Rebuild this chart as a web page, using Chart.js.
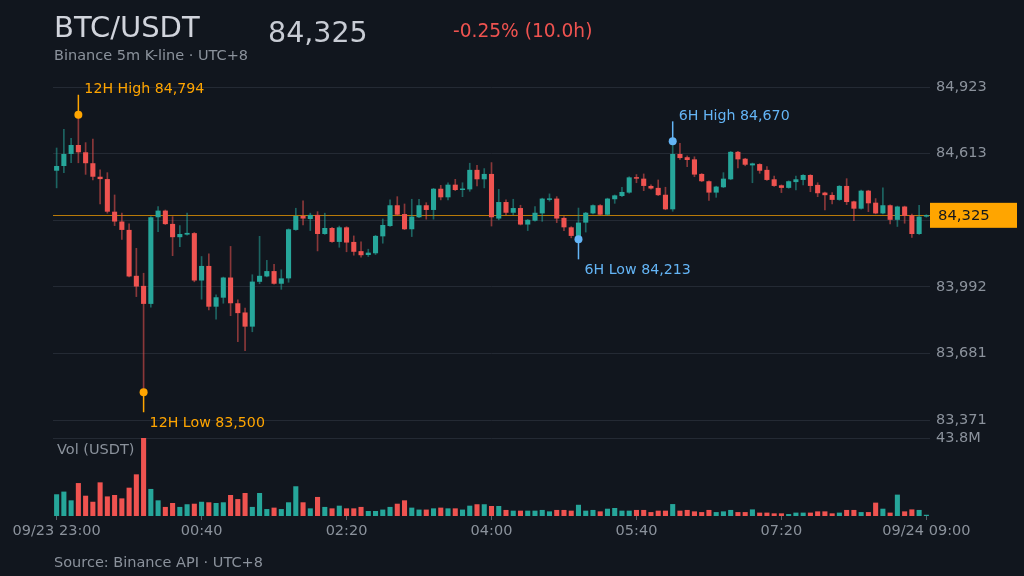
<!DOCTYPE html>
<html><head><meta charset="utf-8">
<script src="https://cdn.jsdelivr.net/npm/chart.js@4.4.1/dist/chart.umd.min.js"></script>
<style>
html,body{margin:0;padding:0;background:#11161e;}
canvas{display:block;}
</style></head>
<body><canvas id="c" width="1024" height="576"></canvas>
<script>
const opens = [84533,84555,84611,84653,84619,84568,84505,84494,84342,84296,84257,84043,83996,83912,84316,84347,84285,84223,84235,84242,
84021,84089,83899,83941,84035,83915,83872,83806,84015,84040,84065,84006,84031,84257,84322,84308,84327,84238,84266,84201,
84269,84201,84158,84140,84148,84227,84275,84372,84331,84260,84316,84372,84350,84449,84409,84468,84443,84446,84537,84493,
84518,84310,84387,84337,84359,84282,84300,84334,84397,84403,84313,84269,84229,84291,84334,84372,84328,84400,84415,84431,
84502,84496,84462,84453,84421,84353,84611,84596,84586,84518,84484,84431,84456,84493,84621,84589,84558,84564,84537,84493,
84465,84453,84480,84490,84513,84467,84431,84420,84397,84462,84390,84356,84440,84384,84334,84372,84304,84366,84325,84238,84319];
const highs = [84639,84726,84684,84794,84664,84681,84537,84524,84420,84335,84285,84171,84055,84319,84366,84350,84319,84277,84335,84245,
84133,84145,83954,84037,84180,83931,83892,84048,84227,84115,84096,84071,84262,84358,84393,84335,84342,84335,84269,84275,
84272,84229,84201,84167,84232,84308,84397,84412,84378,84400,84400,84384,84451,84465,84477,84493,84477,84568,84558,84543,
84571,84446,84397,84400,84372,84306,84366,84405,84425,84412,84319,84272,84359,84339,84374,84375,84405,84420,84456,84505,
84515,84518,84467,84490,84456,84670,84661,84602,84598,84520,84486,84461,84524,84623,84623,84591,84569,84566,84552,84508,
84467,84486,84508,84515,84515,84477,84433,84431,84464,84496,84392,84443,84442,84403,84453,84374,84368,84368,84331,84372,84328];
const lows = [84453,84524,84570,84570,84516,84490,84378,84335,84277,84213,84038,83946,83500,83897,84249,84282,84137,84179,84233,84015,
83934,83884,83841,83915,83857,83736,83694,83782,84006,84038,84004,83980,84013,84255,84280,84254,84159,84236,84199,84176,
84155,84139,84130,84133,84142,84195,84273,84326,84258,84226,84314,84307,84307,84397,84397,84440,84412,84437,84462,84453,
84275,84304,84328,84328,84280,84254,84298,84297,84391,84291,84254,84220,84213,84247,84332,84325,84325,84381,84412,84428,
84477,84440,84447,84417,84351,84344,84586,84552,84505,84482,84394,84409,84454,84491,84546,84556,84477,84521,84488,84460,
84431,84451,84443,84467,84435,84412,84350,84378,84395,84375,84300,84354,84342,84332,84332,84285,84273,84288,84222,84236,84316];
const closes = [84555,84611,84653,84619,84568,84505,84494,84342,84296,84257,84040,83993,83912,84316,84347,84284,84223,84238,84243,84021,
84089,83899,83943,84035,83915,83869,83806,84016,84043,84065,84006,84031,84260,84322,84310,84327,84238,84266,84201,84269,
84198,84155,84139,84151,84229,84280,84372,84328,84260,84319,84372,84350,84449,84409,84468,84443,84449,84537,84493,84518,
84316,84387,84337,84359,84282,84304,84337,84403,84403,84310,84269,84229,84291,84337,84372,84328,84403,84418,84434,84502,
84496,84462,84450,84419,84353,84611,84592,84583,84515,84484,84431,84459,84496,84621,84586,84561,84567,84533,84490,84462,
84453,84484,84493,84513,84462,84428,84419,84397,84462,84387,84356,84440,84381,84334,84372,84304,84366,84322,84238,84319,84325];
const volumesM = [12.2,13.7,8.8,18.5,11.4,8.0,18.9,11.0,11.8,9.9,15.9,23.4,43.8,15.2,8.8,5.1,7.3,5.1,6.6,6.9,
8.0,7.7,7.3,7.7,11.8,9.5,12.9,5.1,12.9,3.9,4.7,3.9,7.7,16.7,7.7,4.3,10.7,5.1,4.3,5.8,
4.3,4.3,5.1,2.8,2.8,3.6,5.1,6.9,8.8,4.7,3.6,3.6,4.3,4.7,4.3,4.3,3.6,5.8,6.6,6.6,
5.6,5.6,3.4,3.0,3.0,3.0,3.0,3.4,2.6,3.4,3.4,3.0,6.3,3.0,3.4,2.6,4.1,4.5,3.0,3.0,
3.4,3.4,2.2,3.0,3.0,6.7,3.0,3.4,2.6,2.2,3.4,2.2,2.6,3.4,2.2,2.2,3.7,1.9,1.9,1.5,
1.5,1.1,1.9,1.9,1.9,2.6,2.6,1.5,1.9,3.4,3.4,2.2,2.2,7.5,4.1,1.9,12.0,2.6,3.7,3.4,0.7];
const xTickIdx = [0,20,40,60,80,100,120];
const xTickText = ['09/23 23:00','00:40','02:20','04:00','05:40','07:20','09/24 09:00'];

const categories = opens.map((_, k) => {
  const m = (23*60 + 5*k) % 1440;
  return String(Math.floor(m/60)).padStart(2,'0') + ':' + String(m%60).padStart(2,'0');
});

const UP = '#26a69a', DOWN = '#ef5350', ORANGE = '#ffa500', BLUE = '#64b5f6';
const TXT = '#8b929c', GRID = '#242a34';
const isUp = closes.map((c,i) => c >= opens[i]);
const bodyColors = isUp.map(u => u ? UP : DOWN);
const wickColors = isUp.map(u => u ? 'rgba(38,166,154,0.55)' : 'rgba(239,83,80,0.55)');
const volumes = volumesM.map(v => v*1e6);

const hi = Math.max(...highs), lo = Math.min(...lows);
const pad = (hi - lo) * 0.1;
const yMin = lo - pad, yMax = hi + pad, yStep = (yMax - yMin) / 5;
const last = closes[closes.length-1];
const volMax = Math.max(...volumes);
const n = opens.length;
const fmt = v => Math.round(v).toLocaleString('en-US');

function extreme(from, useHigh) {
  let idx = from;
  for (let i = from; i < n; i++) {
    if (useHigh ? highs[i] > highs[idx] : lows[i] < lows[idx]) idx = i;
  }
  return idx;
}
const h12 = extreme(0, true), l12 = extreme(0, false);
const h6 = extreme(n-72, true), l6 = extreme(n-72, false);

Chart.defaults.font.family = "'DejaVu Sans', sans-serif";

const overlay = {
  id: 'overlay',
  beforeDatasetsDraw(chart) {
    const {ctx, chartArea: a, scales: {y}} = chart;
    const py = Math.round(y.getPixelForValue(last)) + 0.5;
    ctx.save();
    ctx.strokeStyle = 'rgba(255,165,0,0.7)';
    ctx.lineWidth = 1;
    ctx.beginPath(); ctx.moveTo(a.left, py); ctx.lineTo(a.right, py); ctx.stroke();
    ctx.restore();
  },
  afterDraw(chart) {
    const {ctx, chartArea: a, scales: {x, y}} = chart;
    ctx.save();
    function mark(idx, val, up, color, text) {
      const px = x.getPixelForValue(idx), py = y.getPixelForValue(val);
      ctx.strokeStyle = color; ctx.lineWidth = 1.5;
      ctx.beginPath(); ctx.moveTo(px, py); ctx.lineTo(px, up ? py - 20 : py + 20); ctx.stroke();
      ctx.beginPath(); ctx.arc(px, py, 4, 0, Math.PI*2);
      ctx.fillStyle = color; ctx.fill();
      ctx.font = "14.2px 'DejaVu Sans'"; ctx.textAlign = 'left'; ctx.textBaseline = 'middle';
      ctx.fillText(text, px + 6, up ? py - 25 : py + 31);
    }
    mark(h12, highs[h12], true, ORANGE, '12H High ' + fmt(highs[h12]));
    mark(l12, lows[l12], false, ORANGE, '12H Low ' + fmt(lows[l12]));
    mark(h6, highs[h6], true, BLUE, '6H High ' + fmt(highs[h6]));
    mark(l6, lows[l6], false, BLUE, '6H Low ' + fmt(lows[l6]));

    // current price tag
    const py = y.getPixelForValue(last);
    ctx.fillStyle = ORANGE;
    ctx.fillRect(a.right, py - 12.5, 87, 25);
    ctx.fillStyle = '#15181e';
    ctx.font = "14.8px 'DejaVu Sans'"; ctx.textBaseline = 'middle'; ctx.textAlign = 'left';
    ctx.fillText(fmt(last), a.right + 8, py + 0.5);

    // header
    ctx.textBaseline = 'alphabetic';
    ctx.fillStyle = '#d1d4dc'; ctx.font = "29px 'DejaVu Sans'";
    ctx.fillText('BTC/USDT', 54, 37);
    ctx.fillStyle = '#c8ccd4'; ctx.font = "28.5px 'DejaVu Sans'";
    ctx.fillText(fmt(last), 268, 42);
    const pct = (last - opens[0]) / opens[0] * 100;
    const hrs = (n - 1) * 5 / 60;
    ctx.fillStyle = pct < 0 ? DOWN : UP; ctx.font = "18.6px 'DejaVu Sans'";
    ctx.fillText((pct >= 0 ? '+' : '') + pct.toFixed(2) + '% (' + hrs.toFixed(1) + 'h)', 453, 37);
    ctx.fillStyle = TXT; ctx.font = "14.5px 'DejaVu Sans'";
    ctx.fillText('Binance 5m K-line \u00b7 UTC+8', 54, 60);
    ctx.textBaseline = 'middle';
    ctx.fillText('Vol (USDT)', 57, 450);
    ctx.fillText('Source: Binance API \u00b7 UTC+8', 54, 563);
    ctx.restore();
  }
};

new Chart(document.getElementById('c'), {
  type: 'bar',
  data: {
    labels: categories,
    datasets: [
      { label: 'wick', data: highs.map((h,i) => [lows[i], h]), backgroundColor: wickColors,
        barThickness: 1, grouped: false, order: 3, yAxisID: 'y', minBarLength: 1 },
      { label: 'body', data: opens.map((o,i) => [o, closes[i]]), backgroundColor: bodyColors,
        barPercentage: 0.7, categoryPercentage: 1, grouped: false, order: 2, yAxisID: 'y', minBarLength: 1.5 },
      { label: 'vol', data: volumes, backgroundColor: bodyColors,
        barPercentage: 0.7, categoryPercentage: 1, grouped: false, order: 1, yAxisID: 'yv' }
    ]
  },
  options: {
    responsive: false, animation: false,
    layout: { padding: { left: 53, top: 87, right: 0, bottom: 0 } },
    plugins: { legend: { display: false }, tooltip: { enabled: false } },
    scales: {
      x: {
        offset: true,
        grid: { offset: false, drawOnChartArea: false, tickLength: 4,
          color: c => xTickIdx.includes(c.index) ? '#59606b' : 'rgba(0,0,0,0)' },
        border: { display: false },
        ticks: { autoSkip: false, maxRotation: 0, minRotation: 0, padding: 3, color: TXT, font: { size: 14.5 },
          callback: (v, i) => { const k = xTickIdx.indexOf(i); return k >= 0 ? xTickText[k] : ''; } },
        afterFit: s => { s.height = 60; }
      },
      y: {
        position: 'right', stack: 'main', stackWeight: 333, min: yMin, max: yMax,
        afterBuildTicks: s => { s.ticks = [0,1,2,3,4,5].map(k => ({ value: yMin + k*yStep })); },
        grid: { color: GRID, drawTicks: false }, border: { display: false },
        ticks: { padding: 6, color: TXT, font: { size: 14.5 },
          callback: v => Math.abs(v - last) < yStep*0.2 ? '' : fmt(v) },
        afterFit: s => { s.width = 94; }
      },
      yv: {
        position: 'right', stack: 'main', stackWeight: 96, min: 0, max: volMax * 96 / 78,
        afterBuildTicks: s => { s.ticks = [{ value: volMax }]; },
        grid: { color: GRID, drawTicks: false }, border: { display: false },
        ticks: { padding: 6, color: TXT, font: { size: 14.5 },
          callback: v => (v/1e6).toFixed(1) + 'M' },
        afterFit: s => { s.width = 94; }
      }
    }
  },
  plugins: [overlay]
});
</script>
</body></html>
